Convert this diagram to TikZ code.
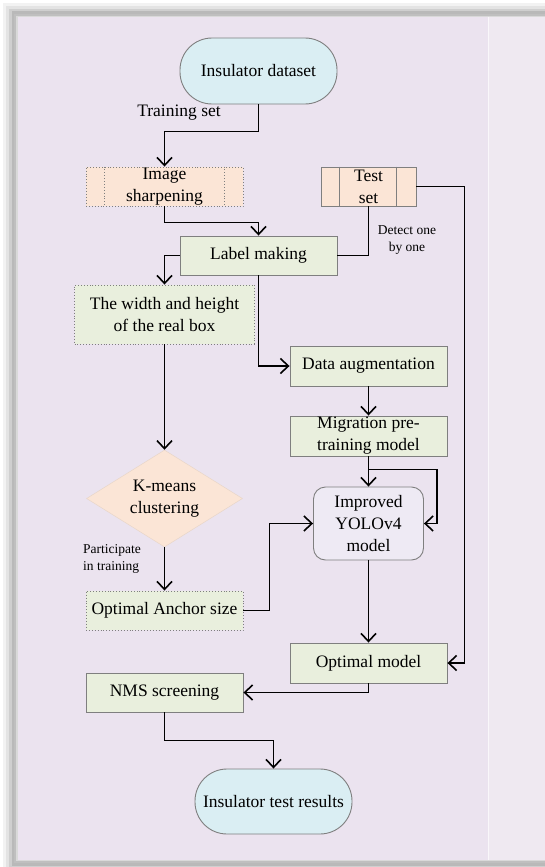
\documentclass[tikz,border=0pt]{standalone}
\usepackage{fontspec}
\setmainfont{Liberation Serif}
\usetikzlibrary{arrows.meta,shapes.geometric,calc}
\definecolor{bgpanel}{HTML}{EBE3EF}
\definecolor{bgright}{HTML}{EFE9F1}
\definecolor{greenfill}{HTML}{E9EFDD}
\definecolor{peachfill}{HTML}{FBE5D6}
\definecolor{bluefill}{HTML}{DAEEF3}
\definecolor{lavfill}{HTML}{EEEAF4}
\definecolor{boxline}{HTML}{7F7F7F}
\tikzset{
  mainfont/.style={font=\fontsize{17.5}{22}\selectfont},
  smallfont/.style={font=\fontsize{13.5}{17}\selectfont},
  basebox/.style={mainfont, draw=boxline, line width=0.9pt, align=center, inner sep=0pt, anchor=center},
  greenbox/.style={basebox, fill=greenfill},
  dotgreen/.style={basebox, fill=greenfill, dotted},
  peachbox/.style={basebox, fill=peachfill},
  stadium/.style={basebox, fill=bluefill, rounded corners=32pt},
  roundbox/.style={basebox, fill=lavfill, rounded corners=12pt},
  kdiamond/.style={mainfont, diamond, fill=peachfill, draw=peachfill!85!gray, line width=0.5pt, align=center, inner sep=0pt, aspect=1.6},
  conn/.style={draw=black, line width=1.7pt},
  arr/.style={conn, -{Straight Barb[length=8pt,width=15pt,line width=1.6pt]}},
  lbl/.style={inner sep=0pt, anchor=center}
}
\begin{document}
\begin{tikzpicture}[x=1pt,y=-1pt]
\useasboundingbox (0,0) rectangle (545,867);
\clip (0,0) rectangle (545,867);
\fill[white] (0,0) rectangle (545,867);
% frame shadow
\fill[gray!10] (3,3) rectangle (600,875);
\fill[gray!22] (6,6) rectangle (600,872);
\fill[gray!38] (9,9) rectangle (600,869);
\fill[gray!55] (11.5,11.5) rectangle (600,866);
\fill[gray!50] (14,14) rectangle (600,863);
\fill[gray!30] (16,16) rectangle (600,861);
\fill[bgpanel] (17.5,17.5) rectangle (600,859.5);
\fill[bgright] (488,17.5) rectangle (600,859.5);
\draw[white!70!bgpanel, line width=0.6pt] (488,17.5) -- (488,859.5);

% nodes
\node[stadium, minimum width=157pt, minimum height=66pt] (ds) at (258.5,71) {Insulator dataset};
\node[peachbox, dotted, minimum width=157pt, minimum height=39pt] (sharp) at (164.5,186.5) {Image\\sharpening};
\draw[boxline, dotted, line width=0.9pt] ($(sharp.north west)+(18.5,0)$) -- ($(sharp.south west)+(18.5,0)$);
\draw[boxline, dotted, line width=0.9pt] ($(sharp.north east)+(-19,0)$) -- ($(sharp.south east)+(-19,0)$);
\node[peachbox, minimum width=95pt, minimum height=39pt] (test) at (368.5,186.5) {Test\\set};
\draw[boxline, line width=0.9pt] ($(test.north west)+(19,0)$) -- ($(test.south west)+(19,0)$);
\draw[boxline, line width=0.9pt] ($(test.north east)+(-20,0)$) -- ($(test.south east)+(-20,0)$);
\node[greenbox, minimum width=157pt, minimum height=39pt] (label) at (258.5,255.5) {Label making};
\node[dotgreen, minimum width=180pt, minimum height=59pt] (wh) at (164.5,314.5) {The width and height\\of the real box};
\node[greenbox, minimum width=157pt, minimum height=40pt] (da) at (368.5,366) {Data augmentation};
\node[greenbox, minimum width=157pt, minimum height=40pt] (mig) at (368.5,436) {Migration pre-\\training model};
\node[roundbox, minimum width=110pt, minimum height=73pt] (imp) at (368.5,523.5) {Improved\\YOLOv4\\model};
\node[kdiamond, minimum width=156pt, minimum height=97pt] (km) at (164.5,498.5) {K-means\\clustering};
\node[dotgreen, minimum width=157pt, minimum height=39pt] (anc) at (164.5,610.5) {Optimal Anchor size};
\node[greenbox, minimum width=157pt, minimum height=40pt] (opt) at (368.5,663) {Optimal model};
\node[greenbox, minimum width=157pt, minimum height=39pt] (nms) at (164.5,692.5) {NMS screening};
\node[stadium, minimum width=157pt, minimum height=65pt] (res) at (273.5,801.5) {Insulator test results};

% labels
\node[lbl, mainfont] (ltrain) at (179,113) {Training set};
\node[lbl, smallfont, align=center] (ldetect) at (407,240) {Detect one\\by one};
\node[lbl, smallfont, align=left, anchor=west] (lpart) at (83,559) {Participate\\in training};

% connectors
\draw[arr] (ds.south) -- ++(0,27) -| (sharp.north);
\draw[arr] (test.east) -| ($(opt.east)+(17,0)$) -- (opt.east);
\draw[conn] (test.south) |- (label.east);
\draw[arr] (sharp.south) -- ++(0,16) -| (label.north);
\draw[arr] (label.west) -| (wh.north);
\draw[arr] (label.south) |- (da.west);
\draw[arr] (da.south) -- (mig.north);
\draw[arr] (mig.south) -- (imp.north);
\draw[arr] ($(mig.south)+(0,13)$) -| ($(imp.east)+(13,0)$) -- (imp.east);
\draw[arr] (wh.south) -- (km.north);
\draw[arr] (km.south) -- (anc.north);
\draw[arr] (anc.east) -- ++(26,0) |- (imp.west);
\draw[arr] (imp.south) -- (opt.north);
\draw[arr] (opt.south) |- (nms.east);
\draw[arr] (nms.south) -- ++(0,28) -| (res.north);
\end{tikzpicture}
\end{document}
